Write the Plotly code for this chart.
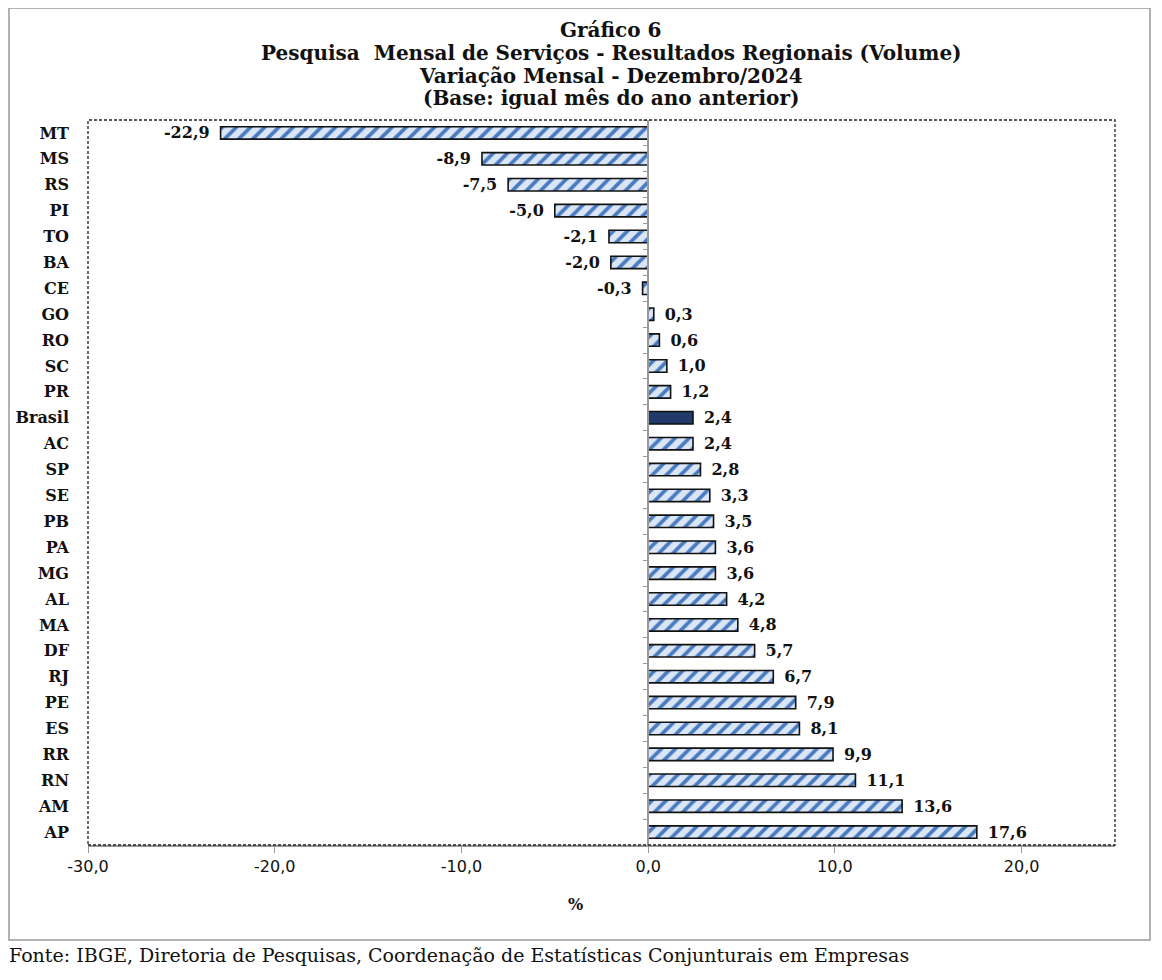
import plotly.graph_objects as go

regions = ["MT", "MS", "RS", "PI", "TO", "BA", "CE", "GO", "RO", "SC", "PR", "Brasil",
           "AC", "SP", "SE", "PB", "PA", "MG", "AL", "MA", "DF", "RJ", "PE", "ES",
           "RR", "RN", "AM", "AP"]
values = [-22.9, -8.9, -7.5, -5.0, -2.1, -2.0, -0.3, 0.3, 0.6, 1.0, 1.2, 2.4,
          2.4, 2.8, 3.3, 3.5, 3.6, 3.6, 4.2, 4.8, 5.7, 6.7, 7.9, 8.1,
          9.9, 11.1, 13.6, 17.6]
highlight = "Brasil"
x_tickvals = [-30, -20, -10, 0, 10, 20]
x_ticktext = ["-30,0", "-20,0", "-10,0", "0,0", "10,0", "20,0"]

title_lines = ["Gráfico 6",
               "Pesquisa  Mensal de Serviços - Resultados Regionais (Volume)",
               "Variação Mensal - Dezembro/2024",
               "(Base: igual mês do ano anterior)"]
source = "Fonte: IBGE, Diretoria de Pesquisas, Coordenação de Estatísticas Conjunturais em Empresas"

FONT = "DejaVu Serif"
SANS = "DejaVu Sans"
LIGHT = "#dae6f6"
STRIPE = "#4a7bc0"
NAVY = "#1f3a6b"


def fmt(v):
    s = f"{v:.1f}".replace(".", ",")
    return s + "\u2002" if v < 0 else "\u2002" + s


reg_states = [r for r in regions if r != highlight]
val_states = [v for r, v in zip(regions, values) if r != highlight]
reg_hi = [r for r in regions if r == highlight]
val_hi = [v for r, v in zip(regions, values) if r == highlight]

W, H = 1154, 972
L, R, T, B = 80, 47, 112, 135
PW = W - L - R
PH = H - T - B

fig = go.Figure()
fig.add_trace(go.Bar(
    x=val_states, y=reg_states, orientation="h",
    marker=dict(color=STRIPE, line=dict(color="#111111", width=1.6),
                pattern=dict(shape="/", fgcolor=STRIPE, bgcolor=LIGHT,
                             fgopacity=1, fillmode="replace", size=10, solidity=0.38)),
    text=[fmt(v) for v in val_states], textposition="outside", cliponaxis=False,
    constraintext="none",
    textfont=dict(family=FONT, size=16, color="#111111", weight="bold"),
    showlegend=False,
))
fig.add_trace(go.Bar(
    x=val_hi, y=reg_hi, orientation="h",
    marker=dict(color=NAVY, line=dict(color="#111111", width=1.6)),
    text=[fmt(v) for v in val_hi], textposition="outside", cliponaxis=False,
    constraintext="none",
    textfont=dict(family=FONT, size=16, color="#111111", weight="bold"),
    showlegend=False,
))
# invisible trace on secondary axis to draw the vertical axis line at zero
fig.add_trace(go.Bar(x=[0] * len(regions), y=regions, orientation="h", yaxis="y2",
                     marker=dict(color="rgba(0,0,0,0)"), showlegend=False,
                     hoverinfo="skip"))

fig.update_layout(
    width=W, height=H,
    margin=dict(l=L, r=R, t=T, b=B, autoexpand=False),
    paper_bgcolor="white", plot_bgcolor="white",
    bargap=0.52, barmode="overlay",
    font=dict(family=FONT, color="#111111"),
    xaxis=dict(range=[-30, 25], tickvals=x_tickvals, ticktext=x_ticktext,
               showgrid=False, zeroline=False, showline=True, linecolor="#9a9a9a",
               linewidth=2, ticks="outside", ticklen=6, tickcolor="#9a9a9a",
               automargin=False,
               tickfont=dict(family=SANS, size=16, color="#111111"), fixedrange=True),
    yaxis=dict(categoryorder="array", categoryarray=regions, autorange="reversed",
               showgrid=False, zeroline=False, showline=False, ticks="",
               ticklabelstandoff=18, automargin=False,
               tickfont=dict(family=FONT, size=16, color="#111111", weight="bold")),
    yaxis2=dict(overlaying="y", anchor="free", position=30 / 55, side="left",
                categoryorder="array", categoryarray=regions, autorange="reversed",
                showline=True, linecolor="#9a9a9a", linewidth=1.5, automargin=False,
                ticks="outside", ticklen=4, tickcolor="#9a9a9a", tickson="boundaries",
                showticklabels=False, showgrid=False, zeroline=False),
)

# title lines
title_offsets = [90, 67, 44, 22]
for line, off in zip(title_lines, title_offsets):
    fig.add_annotation(text=f"<b>{line}</b>", xref="paper", yref="paper",
                       x=(611 - 88) / PW, y=1, yshift=off, borderpad=0,
                       xanchor="center", yanchor="middle", showarrow=False,
                       font=dict(family=FONT, size=20, color="#111111"))
fig.add_annotation(text="<b>%</b>", xref="paper", yref="paper", x=(575 - 88) / PW, y=0,
                   yshift=-48, xanchor="center", yanchor="top", showarrow=False,
                   font=dict(family=FONT, size=16, color="#111111"))
fig.add_annotation(text=source, xref="paper", yref="paper", x=-L / PW, y=0,
                   yshift=-98, xanchor="left", yanchor="top", showarrow=False,
                   borderpad=0, font=dict(family=FONT, size=19, color="#111111"))

# dashed plot-area border and outer frame
fig.add_shape(type="rect", xref="paper", yref="paper", x0=0, x1=1, y0=0, y1=1,
              line=dict(color="#222222", width=1.3, dash="3px,2px"), layer="above")
fig.add_shape(type="rect", xref="paper", yref="paper",
              x0=-79 / PW, x1=1 + 35 / PW, y0=-95 / PH, y1=1 + 112 / PH,
              line=dict(color="#999999", width=1.5))

fig.write_html("out.html")
